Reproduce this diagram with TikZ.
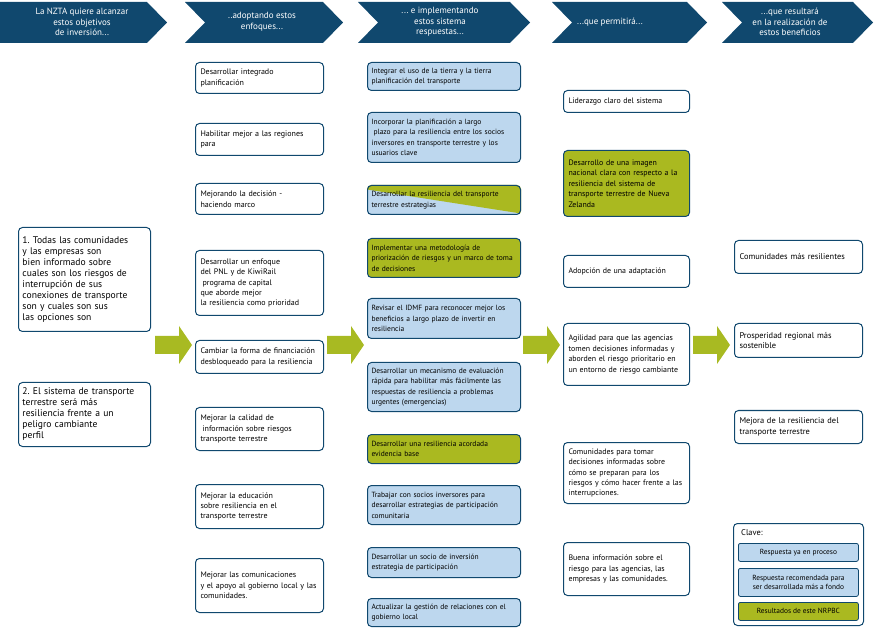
\documentclass[tikz,border=0pt]{standalone}
\usepackage{fontspec}
\setmainfont{PT Sans}
\frenchspacing
\usetikzlibrary{calc, backgrounds}
\definecolor{nzblue}{RGB}{16,72,110}
\definecolor{respblue}{RGB}{189,215,238}
\definecolor{resgreen}{RGB}{170,185,32}
\definecolor{arrgreen}{RGB}{168,186,34}

\tikzset{
  box/.style={draw=nzblue, line width=1pt, rounded corners=4pt, fill=white,
    anchor=north west, align=left, inner xsep=5pt, inner ysep=2pt},
  colA/.style={box, inner xsep=4pt, text width=124pt, font=\fontsize{9.6}{11}\selectfont},
  colB/.style={box, text width=118pt, font=\fontsize{8.0}{10.4}\selectfont},
  colC/.style={box, inner xsep=4pt, text width=145pt, font=\fontsize{7.5}{10.4}\selectfont},
  colD/.style={box, text width=116pt, font=\fontsize{7.9}{10.4}\selectfont},
  colE/.style={box, text width=118pt, font=\fontsize{8.4}{10.4}\selectfont},
  inprocess/.style={fill=respblue},
  nrpbc/.style={fill=resgreen},
  head/.style={text=white, align=center, font=\fontsize{9}{10.5}\selectfont},
  keybox/.style={draw=nzblue, line width=0.8pt, rounded corners=2pt,
    minimum width=120pt, anchor=north west, align=center, inner sep=1pt,
    font=\fontsize{7.4}{9.5}\selectfont}
}

\begin{document}
\begin{tikzpicture}[x=1pt, y=-1pt]
\useasboundingbox (0,0) rectangle (876,628);

% header chevrons
\fill[nzblue] (0,2) -- (147,2) -- (167,22.5) -- (147,43) -- (0,43) -- cycle;
\foreach \l/\r in {185/343, 358/530, 552/707, 722/873}
  \fill[nzblue] (\l,2) -- ({\r-20},2) -- (\r,22.5) -- ({\r-20},43) -- (\l,43) -- ({\l+20},22.5) -- cycle;
\node[head] (h1) at (82,22) {La NZTA quiere alcanzar\\estos objetivos\\de inversión...};
\node[head] (h2) at (262,22) {..adoptando estos\\enfoques...};
\node[head] (h3) at (440,22) {... e implementando\\estos sistema\\respuestas...};
\node[head] (h4) at (610,22) {...que permitirá...};
\node[head] (h5) at (790,22) {...que resultará\\en la realización de\\estos beneficios};

% green arrows between the columns
\foreach \ax in {155,327,523,693}
  \fill[arrgreen] (\ax,336) -- ({\ax+24},336) -- ({\ax+24},326) -- ({\ax+37},345)
    -- ({\ax+24},364) -- ({\ax+24},354) -- (\ax,354) -- cycle;

% objectives
\node[colA, minimum height=104pt] (obj1) at (18,227) {1. Todas las comunidades\\y las empresas son\\bien informado sobre\\cuales son los riesgos de\\interrupción de sus\\conexiones de transporte\\son y cuales son sus\\las opciones son};
\node[colA, minimum height=64pt] (obj2) at (18,382) {2. El sistema de transporte\\terrestre será más\\resiliencia frente a un\\peligro cambiante\\perfil};

% approaches
\node[colB, minimum height=31pt] (b1) at (195,62) {Desarrollar integrado\\planificación};
\node[colB, minimum height=32pt] (b2) at (195,123) {Habilitar mejor a las regiones\\para};
\node[colB, minimum height=31pt] (b3) at (195,183) {Mejorando la decisión -\\haciendo marco};
\node[colB, minimum height=65pt] (b4) at (195,250) {Desarrollar un enfoque\\del PNL y de KiwiRail\\\hspace{2pt}programa de capital\\que aborde mejor\\la resiliencia como prioridad};
\node[colB, minimum height=33pt] (b5) at (195,340) {Cambiar la forma de financiación\\desbloqueado para la resiliencia};
\node[colB, minimum height=43pt] (b6) at (195,407) {Mejorar la calidad de\\\hspace{2pt}información sobre riesgos\\transporte terrestre};
\node[colB, minimum height=44pt] (b7) at (195,484) {Mejorar la educación\\sobre resiliencia en el\\transporte terrestre};
\node[colB, minimum height=54pt] (b8) at (195,558) {Mejorar las comunicaciones\\y el apoyo al gobierno local y las\\comunidades.\\[12pt]};

% responses
\node[colC, inprocess, minimum height=28pt] (c1) at (367,62) {Integrar el uso de la tierra y la tierra\\planificación del transporte};
\node[colC, inprocess, minimum height=50pt] (c2) at (367,112) {Incorporar la planificación a largo\\\hspace{2pt}plazo para la resiliencia entre los socios\\inversores en transporte terrestre y los\\usuarios clave};
\node[colC, fill=none, minimum height=29pt] (c3) at (367,185) {Desarrollar la resiliencia del transporte\\terrestre estrategias};
\begin{scope}[on background layer]
  \clip[rounded corners=4pt] (c3.north west) rectangle (c3.south east);
  \fill[respblue] (c3.north west) rectangle (c3.south east);
  \fill[resgreen] ($(c3.north west)!0.15!(c3.south west)$) -- (c3.north west) -- (c3.north east)
    -- ($(c3.north east)!0.95!(c3.south east)$) -- cycle;
\end{scope}
\node[colC, nrpbc, minimum height=39pt] (c4) at (367,238) {Implementar una metodología de\\priorización de riesgos y un marco de toma\\de decisiones};
\node[colC, inprocess, minimum height=40pt] (c5) at (367,298) {Revisar el IDMF para reconocer mejor los\\beneficios a largo plazo de invertir en\\resiliencia};
\node[colC, inprocess, minimum height=49pt] (c6) at (367,362) {Desarrollar un mecanismo de evaluación\\rápida para habilitar más fácilmente las\\respuestas de resiliencia a problemas\\urgentes (emergencias)};
\node[colC, nrpbc, minimum height=29pt] (c7) at (367,434) {Desarrollar una resiliencia acordada\\evidencia base};
\node[colC, inprocess, minimum height=39pt] (c8) at (367,485) {Trabajar con socios inversores para\\desarrollar estrategias de participación\\comunitaria};
\node[colC, inprocess, minimum height=30pt] (c9) at (367,547) {Desarrollar un socio de inversión\\estrategia de participación};
\node[colC, inprocess, minimum height=28pt] (c10) at (367,598) {Actualizar la gestión de relaciones con el\\gobierno local};

% what they enable
\node[colD, minimum height=22pt] (d1) at (563,90) {Liderazgo claro del sistema};
\node[colD, nrpbc, minimum height=66pt] (d2) at (563,150) {Desarrollo de una imagen\\nacional clara con respecto a la\\resiliencia del sistema de\\transporte terrestre de Nueva\\Zelanda};
\node[colD, minimum height=32pt] (d3) at (563,255) {Adopción de una adaptación\\[8pt]};
\node[colD, minimum height=62pt] (d4) at (563,323) {Agilidad para que las agencias\\tomen decisiones informadas y\\aborden el riesgo prioritario en\\un entorno de riesgo cambiante\\[4pt]};
\node[colD, minimum height=61pt] (d5) at (563,442) {Comunidades para tomar\\decisiones informadas sobre\\cómo se preparan para los\\riesgos y cómo hacer frente a las\\interrupciones.};
\node[colD, minimum height=53pt] (d6) at (563,542) {Buena información sobre el\\riesgo para las agencias, las\\empresas y las comunidades.\\[10pt]};

% benefits
\node[colE, minimum height=33pt] (e1) at (734,240) {Comunidades más resilientes};
\node[colE, minimum height=34pt] (e2) at (734,323) {Prosperidad regional más\\sostenible};
\node[colE, minimum height=33pt] (e3) at (734,410) {Mejora de la resiliencia del\\transporte terrestre};

% key
\node[box, minimum width=130pt, minimum height=102pt] (key) at (733,523) {};
\node[anchor=north west, inner sep=0pt, font=\fontsize{8.4}{10}\selectfont] (keyt) at (741,529) {Clave:};
\node[keybox, inprocess, minimum height=18pt] (k1) at (738,543) {Respuesta ya en proceso};
\node[keybox, inprocess, minimum height=28pt] (k2) at (738,568) {Respuesta recomendada para\\ser desarrollada más a fondo};
\node[keybox, nrpbc, minimum height=18pt] (k3) at (738,602) {Resultados de este NRPBC};
\end{tikzpicture}
\end{document}
